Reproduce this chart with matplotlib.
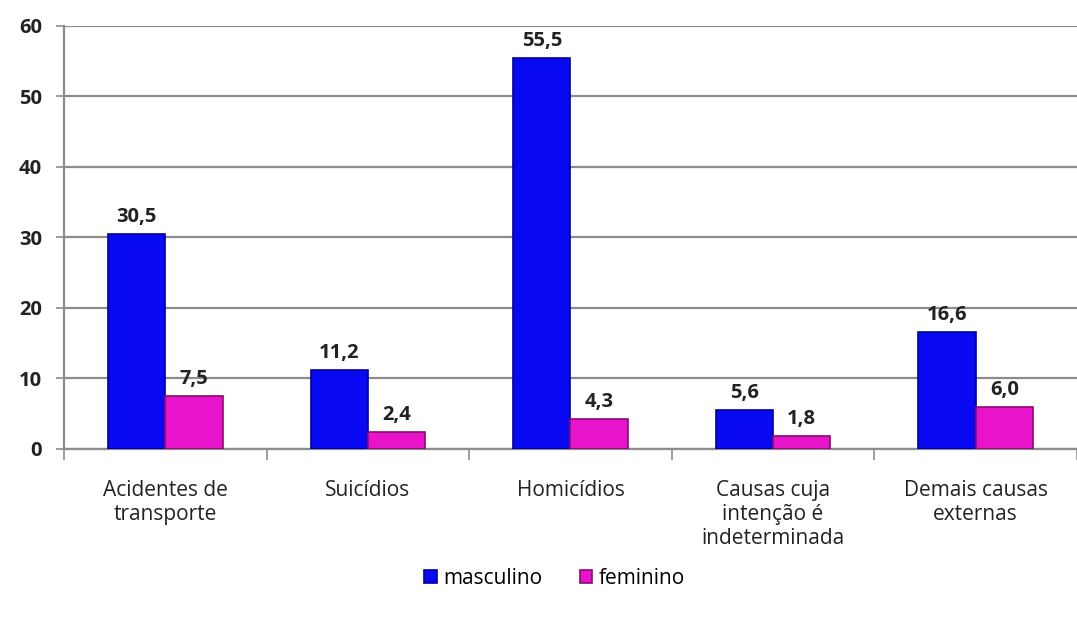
import numpy as np
import matplotlib
matplotlib.use("Agg")
import matplotlib.pyplot as plt

plt.rcParams['font.family'] = ['Open Sans', 'DejaVu Sans']

categorias = ["Acidentes de\ntransporte", "Suicídios", "Homicídios",
              "Causas cuja\nintenção é\nindeterminada", "Demais causas\nexternas"]
masculino = [30.5, 11.2, 55.5, 5.6, 16.6]
feminino = [7.5, 2.4, 4.3, 1.8, 6.0]
rotulos_m = ["30,5", "11,2", "55,5", "5,6", "16,6"]
rotulos_f = ["7,5", "2,4", "4,3", "1,8", "6,0"]

fig = plt.figure(figsize=(10.77, 6.17), dpi=100)
ax = fig.add_axes([0.0594, 0.2723, 0.9406, 0.6856])

x = np.arange(len(categorias))
w = 0.283
b1 = ax.bar(x - w/2, masculino, w, color='#0808f2', edgecolor='#00009c', linewidth=1.2,
            label='masculino', zorder=3)
b2 = ax.bar(x + w/2, feminino, w, color='#e814cc', edgecolor='#8a0a70', linewidth=1.2,
            label='feminino', zorder=3)

for bars, textos in ((b1, rotulos_m), (b2, rotulos_f)):
    for rect, t in zip(bars, textos):
        ax.annotate(t, (rect.get_x() + rect.get_width()/2, rect.get_height()),
                    xytext=(0, 5), textcoords='offset points', ha='center', va='bottom',
                    fontsize=14.5, fontweight='bold', color='#222222')

ax.set_ylim(0, 60)
ax.set_yticks(range(0, 61, 10))
ax.set_xlim(-0.5, 4.449)
ax.grid(axis='y', color='#8c8c8c', linewidth=1.6, zorder=0)

ax.set_xticks(np.arange(-0.5, 5, 1))
ax.set_xticklabels([])
ax.set_xticks(x, minor=True)
ax.set_xticklabels(categorias, minor=True, fontsize=15, color='#222222', linespacing=1.2)
ax.tick_params(axis='x', which='minor', length=0, pad=22)
ax.tick_params(axis='x', which='major', length=8, color='#8c8c8c', width=1.2)
ax.tick_params(axis='y', length=6, color='#8c8c8c', width=1.2, labelsize=14.5,
               labelcolor='#222222', pad=10)
for lab in ax.get_yticklabels():
    lab.set_fontweight('bold')

for s in ['top', 'right']:
    ax.spines[s].set_visible(False)
for s in ['left', 'bottom']:
    ax.spines[s].set_color('#8c8c8c')
    ax.spines[s].set_linewidth(1.6)

fig.legend(loc='center', bbox_to_anchor=(0.515, 0.063), ncol=2, frameon=False,
           fontsize=15, handlelength=0.6, handleheight=0.6, handletextpad=0.3,
           columnspacing=1.8)

fig.savefig("out.png", dpi=100)
